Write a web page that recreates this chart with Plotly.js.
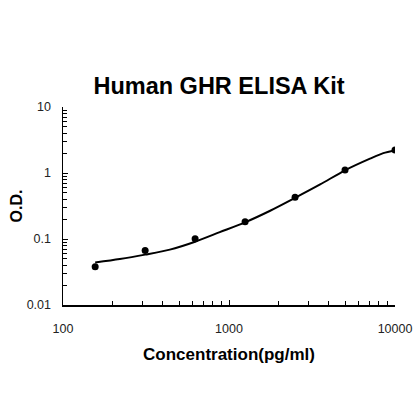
<!DOCTYPE html>
<html>
<head>
<meta charset="utf-8">
<script src="https://cdn.plot.ly/plotly-3.0.1.min.js"></script>
<style>html,body{margin:0;padding:0;background:#fff;}#chart{width:420px;height:420px;}</style>
</head>
<body>
<div id="chart"></div>
<script>
// Measured standards
const concentration = [156.25, 312.5, 625, 1250, 2500, 5000, 10000];
const od = [0.038, 0.067, 0.101, 0.182, 0.43, 1.11, 2.24];

// Fitted curve
const curveX = [156.25, 220, 312.5, 440, 625, 880, 1250, 1770, 2500, 3540, 5000, 7070, 8500, 10000];
const curveY = [0.044, 0.0497, 0.058, 0.069, 0.091, 0.127, 0.179, 0.268, 0.42, 0.67, 1.10, 1.65, 2.0, 2.2];

const xTickVals = [100, 1000, 10000];
const xTickText = ['100', '1000', '10000'];
const yTickVals = [0.01, 0.1, 1, 10];
const yTickText = ['0.01', '0.1', '1', '10'];

const FONT = 'Liberation Sans, Arial, sans-serif';

const traces = [
  {
    x: curveX, y: curveY, type: 'scatter', mode: 'lines',
    line: {color: '#000', width: 2, shape: 'spline', smoothing: 0.8},
    hoverinfo: 'skip', showlegend: false
  },
  {
    x: concentration, y: od, type: 'scatter', mode: 'markers',
    marker: {color: '#000', size: 7},
    showlegend: false
  }
];

const layout = {
  width: 420, height: 420,
  paper_bgcolor: '#fff', plot_bgcolor: '#fff',
  margin: {l: 63, r: 25, t: 107, b: 115},
  showlegend: false,
  title: {
    text: 'Human GHR ELISA Kit',
    font: {family: FONT, size: 23.5, color: '#000', weight: 'bold'},
    x: 219/420, xref: 'container', xanchor: 'center',
    y: 1 - 86/420, yref: 'container', yanchor: 'middle'
  },
  xaxis: {
    type: 'log', range: [2, 4],
    tickvals: xTickVals, ticktext: xTickText,
    ticks: 'inside', ticklen: 5, tickwidth: 1, tickcolor: '#000',
    minor: {ticks: 'inside', ticklen: 4, tickwidth: 1, tickcolor: '#000', dtick: 'D1', showgrid: false},
    showline: true, linecolor: '#000', linewidth: 1.5,
    showgrid: false, zeroline: false,
    ticklabelstandoff: 11,
    tickfont: {family: FONT, size: 12.5, color: '#222'},
    title: {text: 'Concentration(pg/ml)', font: {family: FONT, size: 17, color: '#000', weight: 'bold'}, standoff: 13}
  },
  yaxis: {
    type: 'log', range: [-2, 1],
    tickvals: yTickVals, ticktext: yTickText,
    ticks: 'inside', ticklen: 5, tickwidth: 1, tickcolor: '#000',
    minor: {ticks: 'inside', ticklen: 4, tickwidth: 1, tickcolor: '#000', dtick: 'D1', showgrid: false},
    showline: true, linecolor: '#000', linewidth: 1.5,
    showgrid: false, zeroline: false,
    ticklabelstandoff: 8,
    tickfont: {family: FONT, size: 12.5, color: '#222'},
    title: {text: 'O.D.', font: {family: FONT, size: 16, color: '#000', weight: 'bold'}, standoff: 0}
  }
};

Plotly.newPlot('chart', traces, layout, {displayModeBar: false, staticPlot: true});
</script>
</body>
</html>
